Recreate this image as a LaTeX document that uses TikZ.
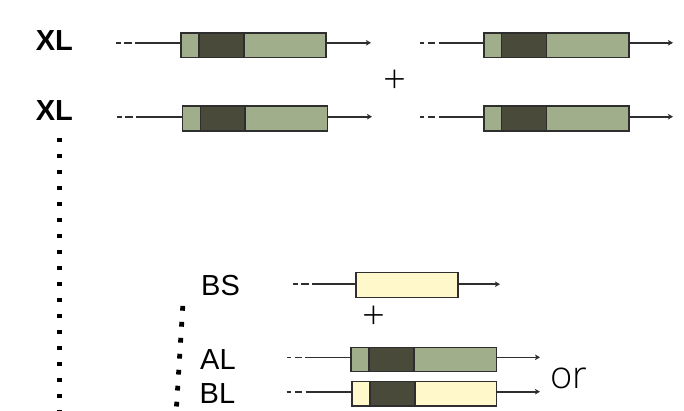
\documentclass[tikz,border=0pt]{standalone}
\usepackage{fontspec}
\setmainfont{Liberation Sans}
\newfontfamily\lightfont{Open Sans Light}
\usetikzlibrary{arrows.meta}
\definecolor{exlight}{HTML}{A1AE8B}
\definecolor{exdark}{HTML}{4A4A3A}
\definecolor{utryel}{HTML}{FFF8CB}
\definecolor{edge}{HTML}{2E2E2E}
\tikzset{
  seg/.style={draw=edge, line width=1.6pt, inner sep=0pt, anchor=north west},
  stem/.style={draw=edge, line width=1.6pt},
  lead/.style={draw=edge, line width=1.6pt, dash pattern=on 4.5pt off 3.5pt on 7.5pt off 3.5pt},
  tail/.style={draw=edge, line width=1.6pt, -{Stealth[length=5pt,width=5.5pt,inset=1.2pt]}},
  dotline/.style={draw=black, line width=4.8pt, dash pattern=on 4.8pt off 11.2pt},
  lbl/.style={inner sep=0pt, anchor=base west, font=\fontsize{29}{32}\selectfont},
  lblbold/.style={lbl, font=\fontsize{29}{32}\selectfont\bfseries},
  sym/.style={inner sep=0pt, font=\lightfont\fontsize{40}{44}\selectfont}
}
% \segs{name}{x0}{x1}{x2}{x3}{ytop}{ybot}{left fill}{right fill}
\newcommand{\segs}[9]{%
  \node[seg, fill=#8, minimum width=#3pt-#2pt, minimum height=#7pt-#6pt] (#1a) at (#2,#6) {};
  \node[seg, fill=exdark, minimum width=#4pt-#3pt, minimum height=#7pt-#6pt] (#1b) at (#3,#6) {};
  \node[seg, fill=#9, minimum width=#5pt-#4pt, minimum height=#7pt-#6pt] (#1c) at (#4,#6) {};
}
\begin{document}
\begin{tikzpicture}[x=1pt,y=-1pt]
\useasboundingbox[fill=white] (0,0) rectangle (684,410);

% chromosome pair, first copy
\segs{p}{180}{198}{243}{325}{32.3}{56.7}{exlight}{exlight}
\segs{q}{483}{500.7}{545.7}{628}{32.3}{56.7}{exlight}{exlight}
% chromosome pair, second copy
\segs{r}{181.7}{199.5}{244}{326.7}{105}{130}{exlight}{exlight}
\segs{s}{483}{500.7}{545.7}{628}{105}{130}{exlight}{exlight}
% lower loci
\node[seg, fill=utryel, minimum width=102pt, minimum height=25pt] (bsa) at (355,271.7) {};
\segs{al}{350}{368.3}{413.3}{495.7}{346.7}{370.7}{exlight}{exlight}
\segs{bl}{351}{369}{414}{495.7}{380.7}{405}{utryel}{utryel}

% upstream leaders and downstream arrows
\coordinate (p0) at (116,42.8);   \coordinate (p1) at (135,42.8);   \coordinate (p2) at (371,42.8);
\coordinate (q0) at (419.5,42.8); \coordinate (q1) at (439,42.8);   \coordinate (q2) at (673,42.8);
\coordinate (r0) at (117.3,116.7);\coordinate (r1) at (136.5,116.7);\coordinate (r2) at (372,116.7);
\coordinate (s0) at (419.5,116.7);\coordinate (s1) at (439,116.7);  \coordinate (s2) at (673,116.7);
\coordinate (bs0) at (293,284.2); \coordinate (bs1) at (312,284.2); \coordinate (bs2) at (500,284.2);
\coordinate (al0) at (286.7,357.3);\coordinate (al1) at (305,357.3);\coordinate (al2) at (540,357.3);
\coordinate (bl0) at (286.7,391.7);\coordinate (bl1) at (305.5,391.7);\coordinate (bl2) at (540,391.7);

\foreach \n/\first/\last in {p/pa/pc, q/qa/qc, r/ra/rc, s/sa/sc, bs/bsa/bsa, al/ala/alc, bl/bla/blc}{
  \draw[lead] (\n0) -- (\n1);
  \draw[stem] (\n1) -- (\n1 -| \first.west);
  \draw[tail] (\n1 -| \last.east) -- (\n2);
}

% labels
\node[lblbold] (xl1) at (35.7,50) {XL};
\node[lblbold] (xl2) at (35.7,120.7) {XL};
\node[lbl] (bs) at (201,295) {BS};
\node[lbl] (al) at (200,369) {AL};
\node[lbl] (bl) at (199.5,403) {BL};

\node[sym] (plus1) at (395,82) {+};
\node[sym] (plus2) at (374,318) {+};
\node[sym, anchor=base west, font=\lightfont\fontsize{38}{42}\selectfont] (or) at (550.5,388.3) {or};

% dotted continuation marks
\coordinate (d1a) at (59.3,137.6);
\coordinate (d1b) at (59.3,412);
\draw[dotline] (d1a) -- (d1b);
\coordinate (d2a) at (182.8,305.9);
\coordinate (d2b) at (176.5,406.5);
\draw[dotline] (d2a) -- (d2b);
\end{tikzpicture}
\end{document}
